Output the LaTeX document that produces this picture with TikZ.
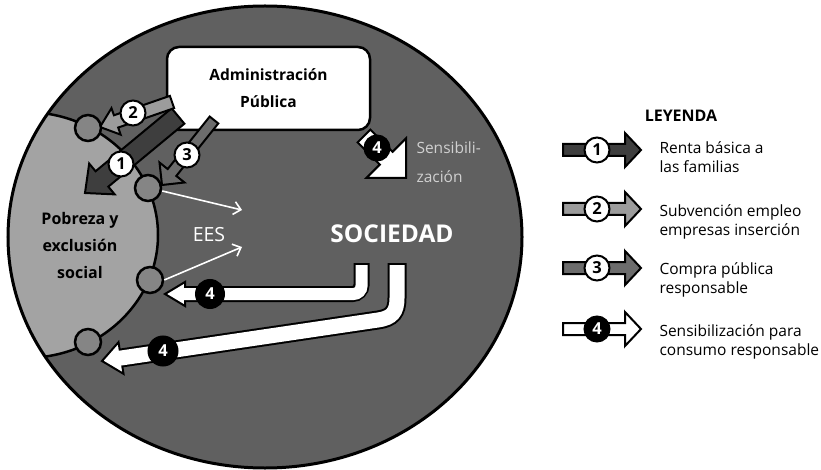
\documentclass[tikz,border=0pt]{standalone}
\usepackage{fontspec}
\setmainfont{Open Sans}
\usetikzlibrary{calc,arrows.meta}
\definecolor{outerc}{HTML}{606060}
\definecolor{innerc}{HTML}{A3A3A3}
\definecolor{dotc}{HTML}{858585}
\definecolor{aone}{HTML}{3E3E3E}
\definecolor{atwo}{HTML}{9C9C9C}
\definecolor{athree}{HTML}{6C6C6C}
\definecolor{sensc}{HTML}{D0D0D0}
\newcommand{\blkarrow}[6]{%
  \coordinate (ba-s) at (#1);
  \coordinate (ba-t) at (#2);
  \coordinate (ba-b) at ($(ba-t)!#4!(ba-s)$);
  \filldraw[fill=#6, draw=black, line width=2pt, line join=miter]
    ($(ba-s)!#3!90:(ba-t)$) -- ($(ba-b)!#3!-90:(ba-s)$) -- ($(ba-b)!#5!-90:(ba-s)$) -- (ba-t)
    -- ($(ba-b)!#5!90:(ba-s)$) -- ($(ba-b)!#3!90:(ba-s)$) -- ($(ba-s)!#3!-90:(ba-t)$) -- cycle;
}
\newcommand{\legarrow}[5]{%
  \filldraw[fill=#2, draw=black, line width=2pt, line join=miter]
    (563,#1-6) -- (625,#1-6) -- (625,#1-17) -- (641,#1) -- (625,#1+17) -- (625,#1+6) -- (563,#1+6) -- cycle;
  \node[numc, fill=#3, text=#4] at (597,#1) {#5};
}
\tikzset{
  numc/.style={circle, draw=black, line width=2pt, minimum size=25pt, inner sep=0pt,
    font=\fontsize{16.5}{16.5}\selectfont\bfseries},
  dotnode/.style={circle, draw=black, line width=2.5pt, fill=dotc, minimum size=26pt, inner sep=0pt},
  legtext/.style={anchor=west, align=left, font=\fontsize{15.5}{19}\selectfont},
}
\begin{document}
\begin{tikzpicture}[x=1pt,y=-1pt]
\useasboundingbox (0,0) rectangle (821,470);
% outer ellipse
\fill[outerc] (265,237) ellipse [x radius=257pt, y radius=231pt];
\begin{scope}
  \clip (265,237) ellipse [x radius=257pt, y radius=231pt];
  \filldraw[fill=innerc, draw=black, line width=2.5pt] (25,235) ellipse [x radius=133pt, y radius=123pt];
\end{scope}
\draw[black, line width=3pt] (265,237) ellipse [x radius=257pt, y radius=231pt];

% Administracion box
\node[draw=black, line width=2.5pt, fill=white, rounded corners=12pt,
      minimum width=203pt, minimum height=83pt, align=center,
      font=\fontsize{15.5}{27}\selectfont\bfseries] (adm) at (268.5,88.5) {Administración\\Pública};

% arrow 1
\blkarrow{178,116}{85,193}{10pt}{22pt}{20pt}{aone}
% arrow 2
\blkarrow{172,102}{100,127}{6.5pt}{17pt}{14pt}{atwo}
% arrow 3
\blkarrow{214,120}{162,185}{5.5pt}{16pt}{16pt}{athree}
% arrow 4 top
\blkarrow{364,136}{406,178}{9pt}{28pt}{28pt}{white}

% dots on inner ellipse
\node[dotnode] (d1) at (88,128) {};
\node[dotnode] (d2) at (148,188) {};
\node[dotnode] (d3) at (150,280) {};
\node[dotnode] (d4) at (88,342) {};

% number circles
\node[numc, fill=white] (n2) at (133,113) {2};
\node[numc, fill=white] (n1) at (121,164) {1};
\node[numc, fill=white] (n3) at (187,155) {3};
\node[numc, fill=black, text=white] (n4a) at (377,148) {4};

% texts
\node[font=\fontsize{16}{27}\selectfont\bfseries, align=center] (pob) at (80,245) {Pobreza y\\exclusión\\social};
\node[text=white, font=\fontsize{19.5}{19.5}\selectfont] (ees) at (209,235) {EES};
\node[text=white, font=\fontsize{24.5}{24.5}\selectfont\bfseries] (soc) at (392,234) {SOCIEDAD};
\node[text=sensc, anchor=west, align=left, font=\fontsize{15.5}{29}\selectfont] (sens) at (413,162) {Sensibili-\\zación};

% EES arrows
\coordinate (e1) at (242,210);
\coordinate (e2) at (242,247);
\draw[white, line width=1.6pt, -{Straight Barb[length=7pt, width=13pt]}] (d2.east) ++(0,3) -- (e1);
\draw[white, line width=1.6pt, -{Straight Barb[length=7pt, width=13pt]}] (d3.east) -- (e2);

% bottom arrow A
\coordinate (As) at (361.5,265);
\coordinate (Ab) at (185,294);
\coordinate (At) at (165,294);
\draw[black, line width=16pt, rounded corners=9pt] (361.5,263) -- (361.5,294) -- (Ab);
\filldraw[fill=white, draw=black, line width=2pt, line join=miter] (185,282) -- (At) -- (185,306) -- cycle;
\draw[white, line width=12pt, rounded corners=8pt] (As) -- (361.5,294) -- (183,294);
\node[numc, fill=black, text=white, minimum size=28pt] (n4b) at (210,294) {4};

% bottom arrow B
\coordinate (Bs) at (397,265);
\coordinate (Bb) at (121,358);
\coordinate (Bt) at (102,361);
\draw[black, line width=19pt] (397,263) -- (397,298) .. controls (397,312) and (392,318) .. (378,320) -- (Bb);
\filldraw[fill=white, draw=black, line width=2pt, line join=miter]
  ($(Bb)!16pt!90:(Bt)$) -- (Bt) -- ($(Bb)!16pt!-90:(Bt)$) -- cycle;
\draw[white, line width=15pt] (Bs) -- (397,298) .. controls (397,312) and (392,318) .. (378,320) -- ($(Bb)!2pt!(Bt)$);
\node[numc, fill=black, text=white, minimum size=29pt] (n4c) at (163,351) {4};

% legend
\node[font=\fontsize{16}{16}\selectfont\bfseries] (ley) at (681,116) {LEYENDA};
\legarrow{150}{aone}{white}{black}{1}
\legarrow{209}{atwo}{white}{black}{2}
\legarrow{268}{athree}{white}{black}{3}
\legarrow{329}{white}{black}{white}{4}
\node[legtext] (l1) at (656,157) {Renta básica a\\las familias};
\node[legtext] (l2) at (656,222) {Subvención empleo\\empresas inserción};
\node[legtext] (l3) at (656,280) {Compra pública\\responsable};
\node[legtext] (l4) at (656,342) {Sensibilización para\\consumo responsable};
\end{tikzpicture}
\end{document}
